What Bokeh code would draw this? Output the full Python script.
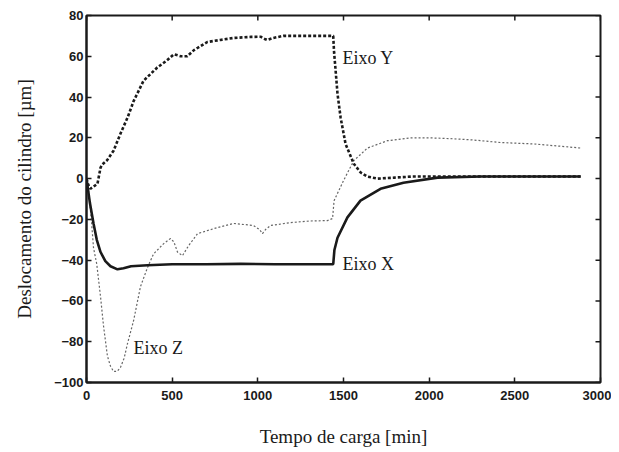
from bokeh.plotting import figure
from bokeh.models import Range1d, FixedTicker, Label
from bokeh.embed import file_html
from bokeh.resources import INLINE

# ---- data ----
t_y = [0, 10, 23, 40, 64, 82, 93, 120, 158, 198, 240, 275, 333, 413, 470, 510, 550, 588,
       627, 705, 780, 860, 960, 1016, 1040, 1055, 1090, 1150, 1250, 1350, 1440, 1445, 1453,
       1465, 1483, 1512, 1560, 1600, 1640, 1700, 1800, 1900, 2000, 2200, 2400, 2600, 2884]
eixo_y = [0, -3, -5, -4, -2.5, 5.4, 7, 9, 13.7, 22, 30, 38, 48, 54.5, 58, 61, 60, 60,
          63, 67, 68, 69, 69.5, 69.6, 68.5, 68, 69, 70, 70, 70, 70, 62, 54,
          41.6, 30, 17, 7.3, 3, 1, 0, 0.5, 1, 1, 1, 1, 1, 1]

t_x = [0, 10, 20, 41, 60, 82, 110, 140, 181, 216, 260, 356, 500, 700, 900, 1100, 1300, 1440,
       1447, 1465, 1523, 1599, 1716, 1850, 2049, 2300, 2600, 2884]
eixo_x = [0, -6, -12, -22, -30, -36, -40.5, -43, -44.5, -44, -43, -42.5, -42, -42, -41.8, -42,
          -42, -42, -35, -29, -19, -10.8, -5, -2, 0.5, 1, 1, 1]

t_z = [0, 15, 30, 41, 60, 82, 99, 122, 140, 158, 180, 198, 220, 239, 275, 315, 356, 391,
       449, 490, 510, 531, 560, 595, 648, 764, 858, 975, 1010, 1027, 1045, 1074, 1190, 1300,
       1406, 1436, 1445, 1500, 1560, 1640, 1757, 1890, 2000, 2125, 2250, 2417, 2610, 2750, 2884]
eixo_z = [0, -8, -22, -34, -42, -58, -72, -87, -92, -94.6, -94.5, -92.7, -88, -81, -69.6, -53,
          -43.6, -37, -32, -29.4, -31, -36, -37.8, -33, -27, -24, -22, -23, -25, -27, -25, -23,
          -21.6, -20.8, -20.6, -19.6, -10.8, -1, 8.8, 15, 18.6, 20, 20, 19.6, 19, 17.7, 17, 16, 15]

x_ticks = [0, 500, 1000, 1500, 2000, 2500, 3000]
y_ticks = [-100, -80, -60, -40, -20, 0, 20, 40, 60, 80]

labels = ["Eixo Y", "Eixo X", "Eixo Z"]
label_t = [1494, 1494, 274]
label_v = [59.3, -41.7, -83]

X0, X1 = 0, 3000
Y0, Y1 = -100, 80

SERIF = "Liberation Serif"
SANS = "Liberation Sans"
INK = "#1a1a1a"

FW, FH = 514, 367
p = figure(frame_width=FW, frame_height=FH, output_backend="svg", toolbar_location=None,
           x_range=Range1d(X0, X1), y_range=Range1d(Y0, Y1),
           min_border_left=86, min_border_right=11, min_border_top=15, min_border_bottom=68,
           background_fill_color="white", border_fill_color="white")
p.grid.visible = False
p.outline_line_color = INK
p.outline_line_width = 2

xa = p.xaxis[0]
ya = p.yaxis[0]
xa.ticker = FixedTicker(ticks=x_ticks)
ya.ticker = FixedTicker(ticks=y_ticks)
for ax in (xa, ya):
    ax.axis_line_color = INK
    ax.axis_line_width = 2
    ax.major_tick_in = 5
    ax.major_tick_out = 0
    ax.major_tick_line_width = 1.5
    ax.major_tick_line_color = INK
    ax.minor_tick_line_color = None
    ax.major_label_text_font = SANS
    ax.major_label_text_font_style = "bold"
    ax.major_label_text_font_size = "13px"
    ax.major_label_text_color = INK
    ax.axis_label_text_font = SERIF
    ax.axis_label_text_font_style = "normal"
    ax.axis_label_text_font_size = "19px"
    ax.axis_label_text_color = INK
xa.major_label_standoff = 8
ya.major_label_standoff = 3
xa.axis_label = "Tempo de carga [min]"
ya.axis_label = "Deslocamento do cilindro [µm]"
xa.axis_label_standoff = 23
ya.axis_label_standoff = 16

# inward ticks on the top and right frame edges (tick length 5 px converted to data units)
tick_dy = 5 * (Y1 - Y0) / FH
tick_dx = 5 * (X1 - X0) / FW
p.segment(x0=x_ticks, y0=[Y1] * len(x_ticks), x1=x_ticks, y1=[Y1 - tick_dy] * len(x_ticks),
          line_color=INK, line_width=1.5)
p.segment(x0=[X1] * len(y_ticks), y0=y_ticks, x1=[X1 - tick_dx] * len(y_ticks), y1=y_ticks,
          line_color=INK, line_width=1.5)

p.line(t_z, eixo_z, line_color="#666666", line_width=1.2, line_dash="2 2")
p.line(t_x, eixo_x, line_color=INK, line_width=2.6)
p.line(t_y, eixo_y, line_color=INK, line_width=2.6, line_dash="3 2")

for txt, tx, vy in zip(labels, label_t, label_v):
    p.add_layout(Label(x=tx, y=vy, text=txt, text_font=SERIF, text_font_size="18px",
                       text_color=INK, text_baseline="middle", text_align="left"))

open("out.html", "w").write(file_html(p, INLINE))
